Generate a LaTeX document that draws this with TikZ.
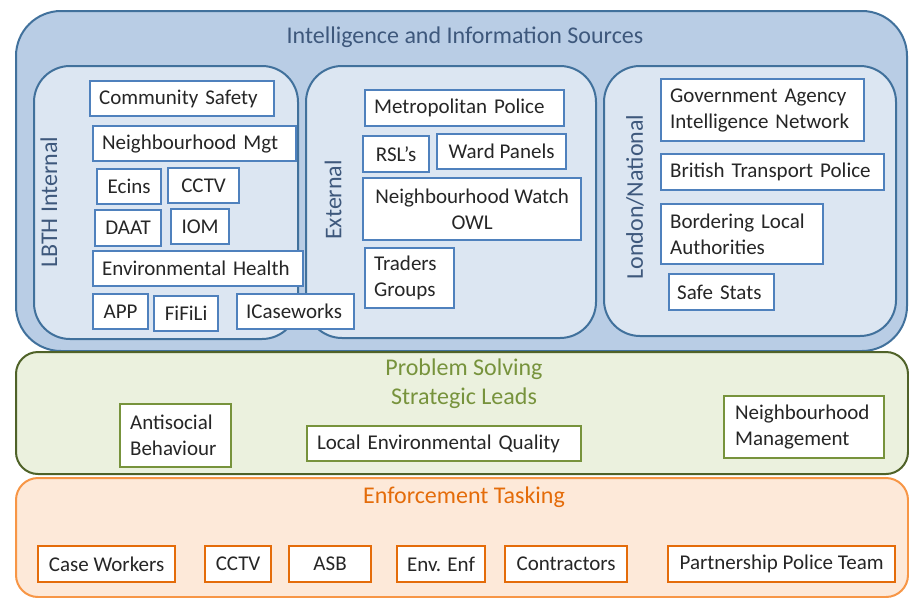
\documentclass[tikz,border=0pt]{standalone}
\usepackage{fontspec}
\setmainfont{Carlito}
\definecolor{bluefill}{RGB}{185,205,229}
\definecolor{blueinner}{RGB}{220,230,242}
\definecolor{blueline}{RGB}{65,113,156}
\definecolor{bluenode}{RGB}{79,129,189}
\definecolor{bluetext}{RGB}{62,88,124}
\definecolor{greenfill}{RGB}{235,241,222}
\definecolor{greenline}{RGB}{79,98,40}
\definecolor{greentext}{RGB}{119,147,60}
\definecolor{orangefill}{RGB}{253,233,217}
\definecolor{orangeline}{RGB}{247,150,70}
\definecolor{orangetext}{RGB}{228,108,10}
\definecolor{nodetext}{RGB}{38,38,38}
\tikzset{
  cont/.style 2 args={draw, rectangle, anchor=north west, inner sep=0pt,
    minimum width=#1pt, minimum height=#2pt, line width=2pt},
  innerbox/.style={rounded corners=36pt, fill=blueinner, draw=blueline},
  bx/.style 2 args={draw, rectangle, anchor=north west, inner sep=0pt, fill=white,
    minimum width=#1pt, minimum height=#2pt, line width=2.2pt, text=nodetext,
    font=\fontsize{21}{26}\selectfont, align=center},
  lft/.style={align=left, text width=#1pt},
  bl/.style={draw=bluenode},
  gr/.style={draw=greentext},
  orr/.style={draw=orangetext},
  ttl/.style={font=\fontsize{24}{29}\selectfont, align=center, inner sep=0pt},
  vlab/.style={ttl, rotate=90, text=bluetext}
}
\begin{document}
\begin{tikzpicture}[x=1pt,y=-1pt]
\useasboundingbox (0,0) rectangle (909,597);
% containers
\node[cont={891}{340}, rounded corners=45pt, fill=bluefill, draw=blueline] (intel) at (15,10) {};
\node[ttl, text=bluetext] (inteltitle) at (465,37) {Intelligence and Information Sources};
\node[cont={264}{273}, innerbox] (lbth) at (33,65) {};
\node[cont={290}{272}, innerbox] (ext) at (305,65) {};
\node[cont={292}{270}, innerbox] (lon) at (603,65) {};
\node[vlab] (lbthlab) at (49,202) {LBTH Internal};
\node[vlab] (extlab) at (333,200) {External};
\node[vlab] (lonlab) at (635,197) {London/National};

\node[cont={892}{122}, rounded corners=22pt, fill=greenfill, draw=greenline] (ps) at (15,351) {};
\node[ttl, text=greentext] (pstitle) at (464,384) {Problem Solving\\Strategic Leads};
\node[cont={892}{119}, rounded corners=22pt, fill=orangefill, draw=orangeline] (enf) at (15,477) {};
\node[ttl, text=orangetext] (enftitle) at (464,497) {Enforcement Tasking};

% LBTH internal
\node[bx={184}{35}, bl, lft=166] (cs) at (89,80) {Community Safety};
\node[bx={203}{35}, bl, lft=185] (nm) at (92,125) {Neighbourhood Mgt};
\node[bx={64}{35}, bl] (ecins) at (96,168) {Ecins};
\node[bx={71}{35}, bl] (cctva) at (167,167) {CCTV};
\node[bx={66}{36}, bl] (daat) at (94,209) {DAAT};
\node[bx={58}{35}, bl] (iom) at (170,208) {IOM};
\node[bx={210}{35}, bl, lft=192] (eh) at (92,250) {Environmental Health};
\node[bx={55}{35}, bl] (app) at (92,293) {APP};
\node[bx={64}{35}, bl] (fifili) at (153,295) {FiFiLi};
\node[bx={117}{35}, bl, lft=99] (icw) at (236,293) {ICaseworks};

% External
\node[bx={199}{36}, bl, lft=181] (met) at (364,89) {Metropolitan Police};
\node[bx={66}{36}, bl] (rsl) at (362,135) {RSL’s};
\node[bx={129}{35}, bl] (ward) at (436,133) {Ward Panels};
\node[bx={218}{62}, bl] (nw) at (362,177) {Neighbourhood Watch\\OWL};
\node[bx={89}{60}, bl, lft=71] (trad) at (364,247) {Traders\\Groups};

% London/National
\node[bx={203}{62}, bl, lft=185] (gov) at (660,78) {Government Agency\\Intelligence Network};
\node[bx={223}{36}, bl, lft=205] (btp) at (660,153) {British Transport Police};
\node[bx={162}{60}, bl, lft=144] (bla) at (660,203) {Bordering Local\\Authorities};
\node[bx={105}{36}, bl, lft=89] (ss) at (668,273) {Safe Stats};

% Problem solving
\node[bx={111}{63}, gr, lft=91] (asbl) at (119,403) {Antisocial\\Behaviour};
\node[bx={274}{35}, gr, lft=254] (leq) at (306,425) {Local Environmental Quality};
\node[bx={160}{62}, gr, lft=138] (nman) at (723,395) {Neighbourhood\\Management};

% Enforcement
\node[bx={137}{36}, orr] (cw) at (37,545) {Case Workers};
\node[bx={66}{36}, orr] (cctvb) at (204,545) {CCTV};
\node[bx={82}{36}, orr] (asbb) at (288,545) {ASB};
\node[bx={88}{36}, orr] (envenf) at (396,545) {Env. Enf};
\node[bx={122}{36}, orr] (contr) at (504,545) {Contractors};
\node[bx={227}{36}, orr] (ppt) at (667,545) {Partnership Police Team};
\end{tikzpicture}
\end{document}
